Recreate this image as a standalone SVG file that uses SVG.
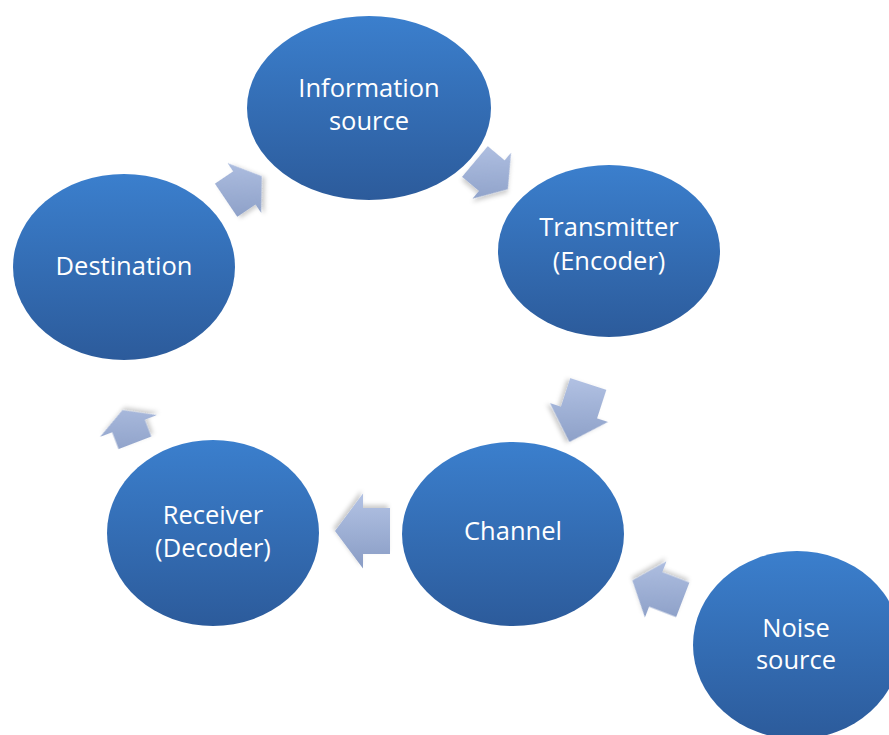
<svg xmlns="http://www.w3.org/2000/svg" xmlns:xlink="http://www.w3.org/1999/xlink" width="889" height="735" viewBox="0 0 889 735">
  <defs>
    <linearGradient id="nodeGrad" x1="0" y1="0" x2="0" y2="1">
      <stop offset="0" stop-color="#3b7fcd"/>
      <stop offset="1" stop-color="#2c5b9b"/>
    </linearGradient>
    <linearGradient id="arrowGrad" gradientUnits="userSpaceOnUse" x1="0" y1="-32" x2="0" y2="32">
      <stop offset="0" stop-color="#b0c0e2"/>
      <stop offset="1" stop-color="#8c9fc7"/>
    </linearGradient>
    <linearGradient id="g1" xlink:href="#arrowGrad" gradientTransform="rotate(34)"/>
    <linearGradient id="g2" xlink:href="#arrowGrad" gradientTransform="rotate(-40)"/>
    <linearGradient id="g3" xlink:href="#arrowGrad" gradientTransform="rotate(-108)"/>
    <linearGradient id="g4" xlink:href="#arrowGrad" gradientTransform="rotate(-180)"/>
    <linearGradient id="g5" xlink:href="#arrowGrad" gradientTransform="rotate(111)"/>
    <linearGradient id="g6" xlink:href="#arrowGrad" gradientTransform="rotate(-201)"/>
    <filter id="shadow" x="-30%" y="-30%" width="160%" height="160%">
      <feDropShadow dx="2" dy="3" stdDeviation="2" flood-color="#000" flood-opacity="0.2"/>
    </filter>
  </defs>
  <style>
    .node { fill: url(#nodeGrad); }
    .label { fill: #ffffff; font-family: "Open Sans", "Liberation Sans", sans-serif; font-size: 25.5px; text-anchor: middle; }
    .arrow { filter: url(#shadow); }
  </style>

  <rect width="889" height="735" fill="#ffffff"/>

  <!-- cycle arrows -->
  <g id="connectors">
    <g class="arrow" transform="translate(243.5,188.5) rotate(-34)">
      <path fill="url(#g1)" d="M-21,-20 L1,-20 L1,-30 L22,0 L1,30 L1,20 L-21,20 Z"/>
    </g>
    <g class="arrow" transform="translate(491,175) rotate(40)">
      <path fill="url(#g2)" d="M-21,-20 L1,-20 L1,-30 L22,0 L1,30 L1,20 L-21,20 Z"/>
    </g>
    <g class="arrow" transform="translate(579,412.5) rotate(108)">
      <path fill="url(#g3)" d="M-30,-19 L0,-19 L0,-30.5 L31,0 L0,30.5 L0,19 L-30,19 Z"/>
    </g>
    <g class="arrow" transform="translate(363,531) rotate(180)">
      <path fill="url(#g4)" d="M-27,-23 L0,-23 L0,-37.5 L28,0 L0,37.5 L0,23 L-27,23 Z"/>
    </g>
    <g class="arrow" transform="translate(128.5,426) rotate(-111)">
      <path fill="url(#g5)" d="M-18,-17.5 L0,-17.5 L0,-30.5 L17,0 L0,30.5 L0,17.5 L-18,17.5 Z"/>
    </g>
    <g class="arrow" transform="translate(655.7,589.4) rotate(201)">
      <path fill="url(#g6)" d="M-29,-18.5 L0,-18.5 L0,-30 L25,0 L0,30 L0,18.5 L-29,18.5 Z"/>
    </g>
  </g>

  <g id="info-source">
    <ellipse class="node" cx="369" cy="108" rx="122" ry="92"/>
    <text class="label" x="369" y="97">Information</text>
    <text class="label" x="369" y="130">source</text>
  </g>

  <g id="transmitter">
    <ellipse class="node" cx="609" cy="251" rx="111" ry="86"/>
    <text class="label" x="609" y="236">Transmitter</text>
    <text class="label" x="609" y="270">(Encoder)</text>
  </g>

  <g id="destination">
    <ellipse class="node" cx="124" cy="267" rx="111" ry="93"/>
    <text class="label" x="124" y="275">Destination</text>
  </g>

  <g id="channel">
    <ellipse class="node" cx="513" cy="534" rx="111" ry="92"/>
    <text class="label" x="513" y="540">Channel</text>
  </g>

  <g id="receiver">
    <ellipse class="node" cx="213" cy="533" rx="106" ry="93"/>
    <text class="label" x="213" y="524">Receiver</text>
    <text class="label" x="213" y="557">(Decoder)</text>
  </g>

  <g id="noise-source">
    <ellipse class="node" cx="797" cy="645" rx="104" ry="94"/>
    <text class="label" x="796" y="637">Noise</text>
    <text class="label" x="796" y="669">source</text>
  </g>
</svg>
